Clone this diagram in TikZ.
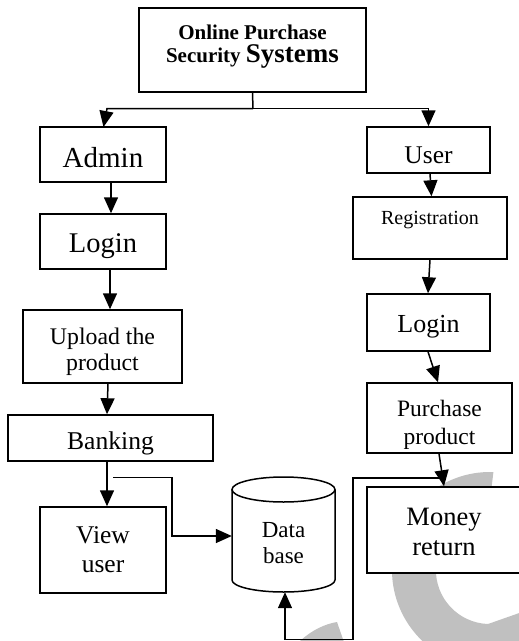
\documentclass[tikz,border=0pt]{standalone}
\usepackage{fontspec}
\setmainfont{Liberation Serif}
\usetikzlibrary{arrows.meta}
\definecolor{wm}{RGB}{192,192,192}
\newcommand{\fsz}[2]{\fontsize{#1}{#2}\selectfont}
\tikzset{
  box/.style={draw, line width=1.5pt, fill=white, inner sep=0pt, align=center},
  arr/.style={line width=1.5pt, -{Triangle[length=16pt,width=14pt]}},
  conn/.style={line width=1.5pt},
}
\begin{document}
\begin{tikzpicture}[x=1pt,y=-1pt]
\useasboundingbox (0,0) rectangle (519,641);
\clip (0,0) rectangle (519,641);
\fill[white] (0,0) rectangle (519,641);
% watermark
\fill[wm] (490,570) +(88:98pt) arc[start angle=88, end angle=290, radius=98pt]
  -- (525,611) -- (488,624) arc[start angle=268, end angle=92, radius=54pt] -- cycle;
\fill[wm] (300,645) -- (300,641) .. controls (312,630) and (325,624) .. (337,622) -- (345,645) -- cycle;

% nodes
\node[box, minimum width=227pt, minimum height=84pt, font=\bfseries\fsz{21}{23}, text height=30pt, text depth=6pt]
  (title) at (252.5,50) {Online Purchase\\Security {\fsz{27}{23}Systems}};
\node[box, minimum width=126pt, minimum height=55pt, font=\fsz{29}{32}, text height=25pt, text depth=0pt]
  (admin) at (103,154.5) {Admin};
\node[box, minimum width=123pt, minimum height=46pt, font=\fsz{25.5}{28}, text height=26pt, text depth=0pt]
  (user) at (428.5,150) {User};
\node[box, minimum width=126pt, minimum height=55pt, font=\fsz{28.5}{31}, text height=27pt, text depth=6pt]
  (loginL) at (103,241.5) {Login};
\node[box, minimum width=154pt, minimum height=62pt, font=\fsz{20}{22}, text height=14pt, text depth=22pt]
  (reg) at (430,228) {Registration};
\node[box, minimum width=123pt, minimum height=57pt, font=\fsz{26}{28}, text height=25pt, text depth=6pt]
  (loginR) at (428.5,322.5) {Login};
\node[box, minimum width=159pt, minimum height=73pt, font=\fsz{23.8}{26}, text height=52pt, text depth=5pt]
  (upload) at (102.5,346.5) {Upload the\\product};
\node[box, minimum width=145pt, minimum height=70pt, font=\fsz{23.5}{28}, text height=57pt, text depth=5pt]
  (purchase) at (439.5,418) {Purchase\\product};
\node[box, minimum width=205pt, minimum height=46pt, font=\fsz{25.6}{28}, text height=28pt, text depth=6pt]
  (banking) at (110.5,438) {Banking};
\node[box, minimum width=126pt, minimum height=86pt, font=\fsz{25.5}{29}, text height=47pt, text depth=3pt]
  (view) at (103,550) {View\\user};
\node[box, minimum width=154pt, minimum height=86pt, font=\fsz{26.5}{30}, text height=52pt, text depth=2pt]
  (money) at (444,530) {Money\\return};

% database cylinder
\fill[white] (232,489.5) -- (232,580) arc[start angle=180, end angle=360, x radius=51.5pt, y radius=12pt]
  -- (335,489.5) arc[start angle=0, end angle=180, x radius=51.5pt, y radius=12.5pt] -- cycle;
\draw[conn] (232,489.5) -- (232,580) arc[start angle=180, end angle=360, x radius=51.5pt, y radius=12pt] -- (335,489.5);
\draw[conn] (283.5,489.5) ellipse[x radius=51.5pt, y radius=12.5pt];
\node[inner sep=0pt, minimum width=103pt, minimum height=115pt, align=center, font=\fsz{23}{26}, text height=60pt, text depth=3pt]
  (db) at (283.5,534.5) {Data\\base};

% connectors
\coordinate (split) at (253,108.5);
\draw[conn] (title.south) -- (split);
\draw[arr] (split) -- (107,108.5) -- (103.5,127);
\draw[arr] (split) -| (user.north);
\draw[arr] ([xshift=8pt]admin.south) -- ([xshift=8pt]loginL.north);
\draw[arr] ([xshift=7pt]loginL.south) -- ([xshift=7.5pt]upload.north);
\draw[arr] ([xshift=5.5pt]upload.south) -- ([xshift=-3.5pt]banking.north);
\draw[arr] ([xshift=-3.5pt]banking.south) -- ([xshift=4pt]view.north);
\coordinate (bk) at (113,477.5);
\draw[arr] (bk) -- (172,477.5) |- (db.west |- 0,536);
\draw[arr] ([xshift=1.5pt]user.south) -- ([xshift=1.5pt]reg.north);
\draw[arr] (reg.south) -- ([xshift=-0.5pt]loginR.north);
\draw[arr] ([xshift=-0.5pt]loginR.south) -- ([xshift=9.5pt]loginR.south |- purchase.north);
\draw[arr] ([xshift=-0.5pt]purchase.south) -- (money.north);
\coordinate (mr) at (441.5,478);
\draw[arr] (mr) -- (353,478) -- (353,639.5) -| ([xshift=1.5pt]db.south);
\end{tikzpicture}
\end{document}
